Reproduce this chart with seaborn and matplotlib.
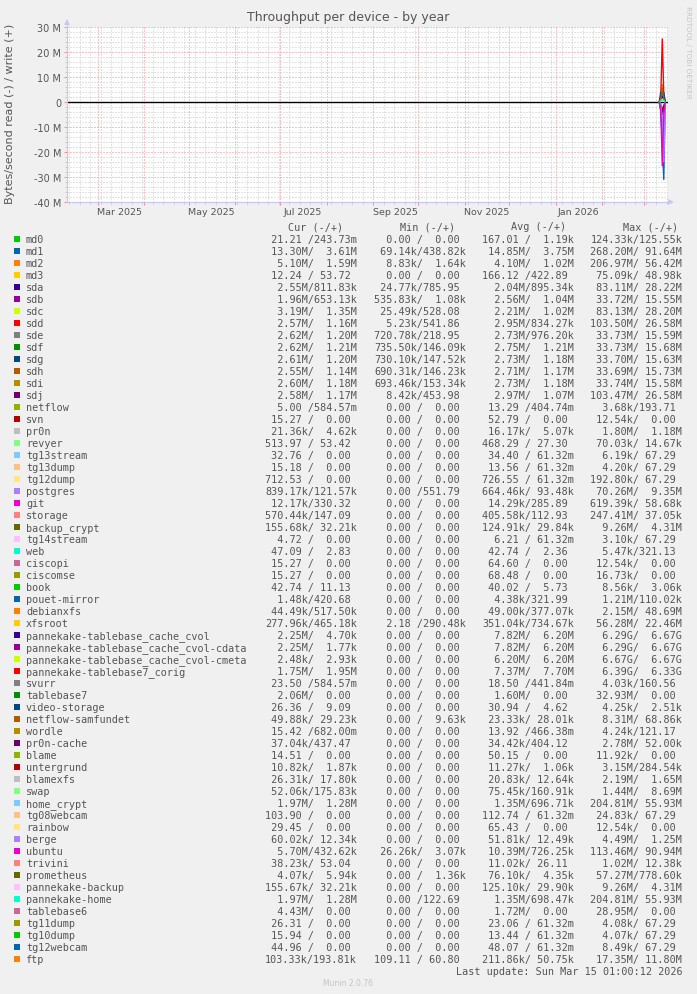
import matplotlib
matplotlib.use("Agg")
import matplotlib.pyplot as plt
import matplotlib.dates as mdates
from matplotlib.lines import Line2D
from matplotlib.patches import Rectangle
from matplotlib.ticker import MultipleLocator, NullFormatter
import pandas as pd
import seaborn as sns

# ---------------- data ----------------
TITLE = "Throughput per device - by year"
YLABEL = "Bytes/second read (-) / write (+)"
WATERMARK = "RRDTOOL / TOBI OETIKER"
LAST_UPDATE = "Last update: Sun Mar 15 01:00:12 2026"
FOOTER = "Munin 2.0.76"

devices = ["md0", "md1", "md2", "md3", "sda", "sdb", "sdc", "sdd", "sde", "sdf",
           "sdg", "sdh", "sdi", "sdj", "netflow", "svn", "pr0n", "revyer",
           "tg13stream", "tg13dump", "tg12dump", "postgres", "git", "storage",
           "backup_crypt", "tg14stream", "web", "ciscopi", "ciscomse", "book",
           "pouet-mirror", "debianxfs", "xfsroot", "pannekake-tablebase_cache_cvol",
           "pannekake-tablebase_cache_cvol-cdata", "pannekake-tablebase_cache_cvol-cmeta",
           "pannekake-tablebase7_corig", "svurr", "tablebase7", "video-storage",
           "netflow-samfundet", "wordle", "pr0n-cache", "blame", "untergrund",
           "blamexfs", "swap", "home_crypt", "tg08webcam", "rainbow", "berge",
           "ubuntu", "trivini", "prometheus", "pannekake-backup", "pannekake-home",
           "tablebase6", "tg11dump", "tg10dump", "tg12webcam", "ftp"]

munin_colours = ["#00CC00", "#0066B3", "#FF8000", "#FFCC00", "#330099", "#990099",
                 "#CCFF00", "#FF0000", "#808080", "#008F00", "#00487D", "#B35A00",
                 "#B38F00", "#6B006B", "#8FB300", "#B30000", "#BEBEBE", "#80FF80",
                 "#80C9FF", "#FFC080", "#FFE680", "#AA80FF", "#EE00CC", "#FF8080",
                 "#666600", "#FFBFFF", "#00FFCC", "#CC6699", "#999900"]

cur = ["21.21/243.73m", "13.30M/3.61M", "5.10M/1.59M", "12.24/53.72", "2.55M/811.83k",
       "1.96M/653.13k", "3.19M/1.35M", "2.57M/1.16M", "2.62M/1.20M", "2.62M/1.21M",
       "2.61M/1.20M", "2.55M/1.14M", "2.60M/1.18M", "2.58M/1.17M", "5.00/584.57m",
       "15.27/0.00", "21.36k/4.62k", "513.97/53.42", "32.76/0.00", "15.18/0.00",
       "712.53/0.00", "839.17k/121.57k", "12.17k/330.32", "570.44k/147.09",
       "155.68k/32.21k", "4.72/0.00", "47.09/2.83", "15.27/0.00", "15.27/0.00",
       "42.74/11.13", "1.48k/420.68", "44.49k/517.50k", "277.96k/465.18k",
       "2.25M/4.70k", "2.25M/1.77k", "2.48k/2.93k", "1.75M/1.95M", "23.50/584.57m",
       "2.06M/0.00", "26.36/9.09", "49.88k/29.23k", "15.42/682.00m", "37.04k/437.47",
       "14.51/0.00", "10.82k/1.87k", "26.31k/17.80k", "52.06k/175.83k", "1.97M/1.28M",
       "103.90/0.00", "29.45/0.00", "60.02k/12.34k", "5.70M/432.62k", "38.23k/53.04",
       "4.07k/5.94k", "155.67k/32.21k", "1.97M/1.28M", "4.43M/0.00", "26.31/0.00",
       "15.94/0.00", "44.96/0.00", "103.33k/193.81k"]

mins = ["0.00/0.00", "69.14k/438.82k", "8.83k/1.64k", "0.00/0.00", "24.77k/785.95",
        "535.83k/1.08k", "25.49k/528.08", "5.23k/541.86", "720.78k/218.95",
        "735.50k/146.09k", "730.10k/147.52k", "690.31k/146.23k", "693.46k/153.34k",
        "8.42k/453.98", "0.00/0.00", "0.00/0.00", "0.00/0.00", "0.00/0.00",
        "0.00/0.00", "0.00/0.00", "0.00/0.00", "0.00/551.79", "0.00/0.00",
        "0.00/0.00", "0.00/0.00", "0.00/0.00", "0.00/0.00", "0.00/0.00",
        "0.00/0.00", "0.00/0.00", "0.00/0.00", "0.00/0.00", "2.18/290.48k",
        "0.00/0.00", "0.00/0.00", "0.00/0.00", "0.00/0.00", "0.00/0.00",
        "0.00/0.00", "0.00/0.00", "0.00/9.63k", "0.00/0.00", "0.00/0.00",
        "0.00/0.00", "0.00/0.00", "0.00/0.00", "0.00/0.00", "0.00/0.00",
        "0.00/0.00", "0.00/0.00", "0.00/0.00", "26.26k/3.07k", "0.00/0.00",
        "0.00/1.36k", "0.00/0.00", "0.00/122.69", "0.00/0.00", "0.00/0.00",
        "0.00/0.00", "0.00/0.00", "109.11/60.80"]

avgs = ["167.01/1.19k", "14.85M/3.75M", "4.10M/1.02M", "166.12/422.89", "2.04M/895.34k",
        "2.56M/1.04M", "2.21M/1.02M", "2.95M/834.27k", "2.73M/976.20k", "2.75M/1.21M",
        "2.73M/1.18M", "2.71M/1.17M", "2.73M/1.18M", "2.97M/1.07M", "13.29/404.74m",
        "52.79/0.00", "16.17k/5.07k", "468.29/27.30", "34.40/61.32m", "13.56/61.32m",
        "726.55/61.32m", "664.46k/93.48k", "14.29k/285.89", "405.58k/112.93",
        "124.91k/29.84k", "6.21/61.32m", "42.74/2.36", "64.60/0.00", "68.48/0.00",
        "40.02/5.73", "4.38k/321.99", "49.00k/377.07k", "351.04k/734.67k",
        "7.82M/6.20M", "7.82M/6.20M", "6.20M/6.20M", "7.37M/7.70M", "18.50/441.84m",
        "1.60M/0.00", "30.94/4.62", "23.33k/28.01k", "13.92/466.38m", "34.42k/404.12",
        "50.15/0.00", "11.27k/1.06k", "20.83k/12.64k", "75.45k/160.91k",
        "1.35M/696.71k", "112.74/61.32m", "65.43/0.00", "51.81k/12.49k",
        "10.39M/726.25k", "11.02k/26.11", "76.10k/4.35k", "125.10k/29.90k",
        "1.35M/698.47k", "1.72M/0.00", "23.06/61.32m", "13.44/61.32m",
        "48.07/61.32m", "211.86k/50.75k"]

maxs = ["124.33k/125.55k", "268.20M/91.64M", "206.97M/56.42M", "75.09k/48.98k",
        "83.11M/28.22M", "33.72M/15.55M", "83.13M/28.20M", "103.50M/26.58M",
        "33.73M/15.59M", "33.73M/15.68M", "33.70M/15.63M", "33.69M/15.73M",
        "33.74M/15.58M", "103.47M/26.58M", "3.68k/193.71", "12.54k/0.00",
        "1.80M/1.18M", "70.03k/14.67k", "6.19k/67.29", "4.20k/67.29",
        "192.80k/67.29", "70.26M/9.35M", "619.39k/58.68k", "247.41M/37.05k",
        "9.26M/4.31M", "3.10k/67.29", "5.47k/321.13", "12.54k/0.00", "16.73k/0.00",
        "8.56k/3.06k", "1.21M/110.02k", "2.15M/48.69M", "56.28M/22.46M",
        "6.29G/6.67G", "6.29G/6.67G", "6.67G/6.67G", "6.39G/6.33G", "4.03k/160.56",
        "32.93M/0.00", "4.25k/2.51k", "8.31M/68.86k", "4.24k/121.17", "2.78M/52.00k",
        "11.92k/0.00", "3.15M/284.54k", "2.19M/1.65M", "1.44M/8.69M",
        "204.81M/55.93M", "24.83k/67.29", "12.54k/0.00", "4.49M/1.25M",
        "113.46M/90.94M", "1.02M/12.38k", "57.27M/778.60k", "9.26M/4.31M",
        "204.81M/55.93M", "28.95M/0.00", "4.08k/67.29", "4.07k/67.29",
        "8.49k/67.29", "17.35M/11.80M"]

# daily samples at the end of the year (values in MB/s), read shown negative
spike_dates = ["2026-03-11", "2026-03-12", "2026-03-13", "2026-03-14", "2026-03-15"]
write_mb = {
    "md1":  [0, 1.2, 3.0, 2.0, 0],
    "md2":  [0, 1.5, 7.0, 2.5, 0],
    "sda":  [0, 0.8, 2.2, 0.9, 0],
    "sdc":  [0, 0.6, 1.0, 0.4, 0],
    "sdd":  [0, 2.0, 25.2, 3.0, 0],
    "sdg":  [0, 3.9, 3.6, 3.8, 0],
    "sdh":  [0, 1.0, 5.5, 1.5, 0],
    "web":  [0, 0.5, 1.2, 0.6, 0],
}
read_mb = {
    "md1":      [0, -4.0, -15.0, -31.0, 0],
    "md2":      [0, -1.0, -3.0, -2.0, 0],
    "sdb":      [0, -2.5, -5.0, -3.5, 0],
    "sdf":      [0, -1.8, -2.5, -1.5, 0],
    "sdj":      [0, -1.5, -4.0, -2.0, 0],
    "postgres": [0, -1.0, -6.0, -24.0, 0],
    "ubuntu":   [0, -3.0, -25.5, -5.0, 0],
}

ytick_vals = [30, 20, 10, 0, -10, -20, -30, -40]
ytick_labels = ["30 M", "20 M", "10 M", "0", "-10 M", "-20 M", "-30 M", "-40 M"]
xlabel_months = ["2025-03-01", "2025-05-01", "2025-07-01", "2025-09-01",
                 "2025-11-01", "2026-01-01"]
xlabel_text = ["Mar 2025", "May 2025", "Jul 2025", "Sep 2025", "Nov 2025", "Jan 2026"]
x_start, x_end = "2025-02-08 15:00", "2026-03-16 20:00"

# ---------------- figure ----------------
W, H = 697, 995
sns.set_theme(style="white")
plt.rcParams["font.family"] = ["DejaVu Sans"]
BG = "#F0F0F0"
TXT = "#555555"
AXC = "#C8C8F0"
MONO = "DejaVu Sans Mono"
LEG_FS = 7.25

fig = plt.figure(figsize=(W / 100, H / 100), dpi=100, facecolor=BG)


def fx(x):
    return x / W


def fy(y):
    return 1 - y / H


L, T, R, B = 67, 28, 668, 203
ax = fig.add_axes([fx(L), fy(B), (R - L) / W, (B - T) / H])
ax.set_facecolor("white")

colour_of = {d: munin_colours[i % len(munin_colours)] for i, d in enumerate(devices)}
dates = pd.to_datetime(spike_dates)

ax.axhline(0, color="black", lw=1.0, zorder=1.5)
for d in devices:
    if d in read_mb:
        sns.lineplot(x=dates, y=read_mb[d], color=colour_of[d], lw=1.0, ax=ax,
                     estimator=None, zorder=2)
    if d in write_mb:
        sns.lineplot(x=dates, y=write_mb[d], color=colour_of[d], lw=1.0, ax=ax,
                     estimator=None, zorder=2)

ax.set_xlim(pd.Timestamp(x_start), pd.Timestamp(x_end))
ax.set_ylim(-40, 30)
ax.set_xlabel("")
ax.set_ylabel("")

ax.xaxis.set_major_locator(mdates.MonthLocator())
ax.xaxis.set_minor_locator(mdates.WeekdayLocator(byweekday=mdates.MO))
ax.xaxis.set_major_formatter(NullFormatter())
ax.set_yticks(ytick_vals)
ax.set_yticklabels(ytick_labels)
ax.yaxis.set_minor_locator(MultipleLocator(2))

ax.set_axisbelow(True)
ax.grid(which="major", color="#EE8C8C", linestyle=(0, (1, 2)), lw=0.72)
ax.grid(which="minor", color="#C8C8C8", linestyle=(0, (1, 2)), lw=0.72)
ax.tick_params(axis="x", which="major", length=2.2, width=0.72, color="#F09090",
               bottom=True)
ax.tick_params(axis="x", which="minor", length=1.5, width=0.72, color="#C8C8C8",
               bottom=True)
ax.tick_params(axis="y", which="major", length=2, width=0.72, color="#F09090",
               left=True, labelsize=7, labelcolor=TXT, pad=2.2)
ax.tick_params(axis="y", which="minor", length=1.2, width=0.72, color="#C8C8C8",
               left=True)
for s in ax.spines.values():
    s.set_visible(False)

for m, lab in zip(xlabel_months, xlabel_text):
    ax.text(pd.Timestamp(m) + pd.Timedelta(days=15), -0.052, lab,
            transform=ax.get_xaxis_transform(), ha="center", va="center",
            fontsize=6.8, color=TXT)

# axes with arrows (rrdtool style)
fig.add_artist(Line2D([fx(L), fx(670)], [fy(B), fy(B)], color=AXC, lw=0.9))
fig.add_artist(Line2D([fx(L), fx(L)], [fy(B), fy(22)], color=AXC, lw=0.9))
fig.add_artist(Line2D([fx(671)], [fy(B)], marker=">", markersize=4, color=AXC,
                      markeredgewidth=0))
fig.add_artist(Line2D([fx(L)], [fy(23)], marker="^", markersize=4, color=AXC,
                      markeredgewidth=0))

# titles
fig.text(fx(348), fy(18), TITLE, ha="center", va="center", fontsize=9, color=TXT)
fig.text(fx(10), fy(114), YLABEL, ha="center", va="center", rotation=90,
         fontsize=8, color=TXT)
fig.text(fx(688), fy(6), WATERMARK, ha="center", va="top", rotation=-90,
         fontsize=5.2, color="#C4C4C4")

# legend table
header_x = [288, 400, 511, 623]
headers = ["Cur (-/+)", "Min (-/+)", "Avg (-/+)", "Max (-/+)"]
for hx, h in zip(header_x, headers):
    fig.text(fx(hx), fy(230), h, ha="left", va="baseline", family=MONO,
             fontsize=LEG_FS, color=TXT)


def fmt_val(v):
    v = v.strip()
    if v[-1].isalpha():
        return v[:-1].rjust(6) + v[-1]
    return v.rjust(6) + " "


def cell(s):
    a, b = s.split("/")
    return fmt_val(a) + "/" + fmt_val(b)


col_x = [265, 374, 482.5, 590.5]
row0, dy = 240, 12.0
for i, d in enumerate(devices):
    y = row0 + i * dy
    fig.add_artist(Rectangle((fx(14), fy(y + 3)), 6 / W, 6 / H,
                             facecolor=colour_of[d], edgecolor="none"))
    fig.text(fx(26), fy(y + 3), d, ha="left", va="baseline", family=MONO,
             fontsize=LEG_FS, color=TXT)
    for cx, col in zip(col_x, (cur, mins, avgs, maxs)):
        fig.text(fx(cx), fy(y + 3), cell(col[i]), ha="left", va="baseline",
                 family=MONO, fontsize=LEG_FS, color=TXT)

fig.text(fx(683), fy(975), LAST_UPDATE, ha="right", va="baseline", family=MONO,
         fontsize=LEG_FS, color=TXT)
fig.text(fx(348), fy(984), FOOTER, ha="center", va="center", fontsize=5.5,
         color="#C4C4C4")

fig.savefig("out.png", dpi=100, facecolor=BG)
